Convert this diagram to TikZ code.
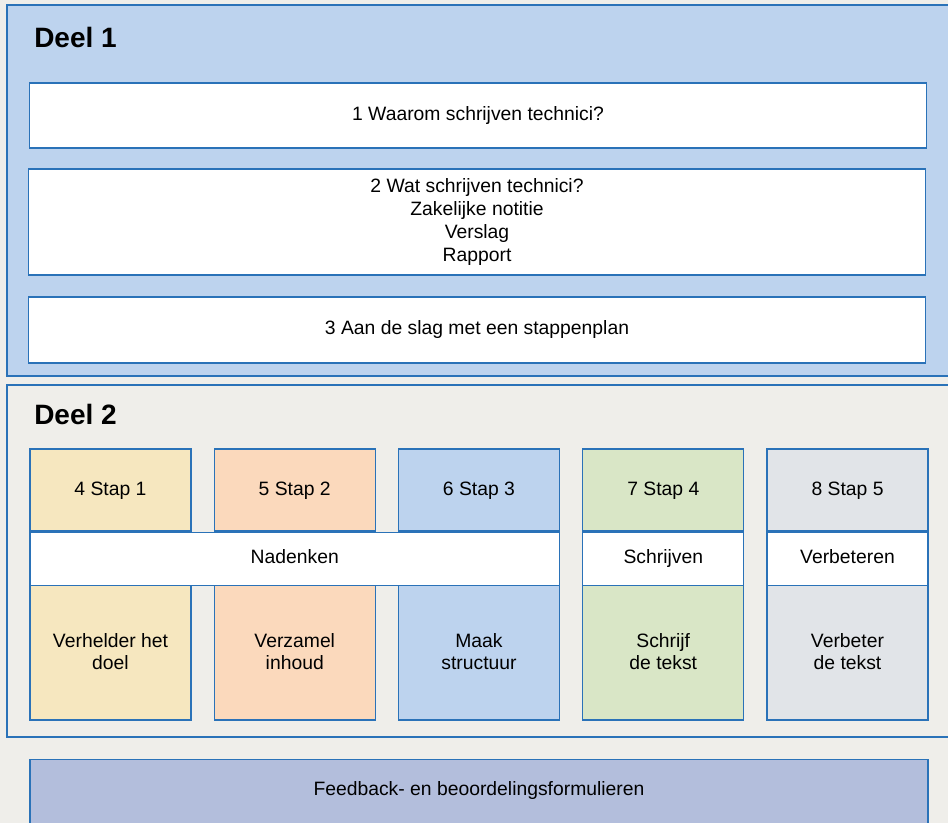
\documentclass[tikz,border=0pt]{standalone}
\usepackage{fontspec}
\setmainfont{Liberation Sans}
\usetikzlibrary{positioning}
\definecolor{pagegray}{HTML}{EFEEEA}
\definecolor{panelblue}{HTML}{BDD3EE}
\definecolor{lineblue}{HTML}{2A72B8}
\definecolor{stapgeel}{HTML}{F6E7BF}
\definecolor{staporanje}{HTML}{FBD9BC}
\definecolor{stapblauw}{HTML}{BDD3EE}
\definecolor{stapgroen}{HTML}{D9E6C6}
\definecolor{stapgrijs}{HTML}{E1E4E8}
\definecolor{feedbackblauw}{HTML}{B3BEDC}
\tikzstyle{panel} = [draw=lineblue, line width=1.5pt, anchor=north west, inner sep=0pt, minimum width=720pt]
\tikzstyle{titel} = [anchor=base west, inner sep=0pt, font=\fontsize{21}{25}\selectfont\bfseries]
\tikzstyle{hoofdstuk} = [draw=lineblue, line width=1.1pt, fill=white, align=center, minimum width=672.75pt, inner sep=0pt, font=\fontsize{14.5}{17.25}\selectfont]
\tikzstyle{stapkop} = [draw=lineblue, line width=1.1pt, align=center, minimum width=120.75pt, minimum height=61.5pt, inner sep=0pt, text height=10.5pt, text depth=3pt, font=\fontsize{14.5}{17.25}\selectfont]
\tikzstyle{stapvoet} = [draw=lineblue, line width=1.1pt, align=center, minimum width=120.75pt, minimum height=102pt, inner sep=0pt, font=\fontsize{14.5}{16.5}\selectfont]
\tikzstyle{band} = [draw=lineblue, line width=1.1pt, fill=white, minimum height=39.75pt, inner sep=0pt, text height=10.5pt, text depth=3pt, font=\fontsize{14.5}{17.25}\selectfont]
\newcommand{\hoofdstuk}[3]{node (h#1) [hoofdstuk, minimum height=#2] {#3}}
\newcommand{\stapkop}[3]{node (k#1) [stapkop, fill=#2] {#3}}
\newcommand{\stapvoet}[3]{node (v#1) [stapvoet, fill=#2] {#3}}
\begin{document}
\begin{tikzpicture}[x=0.75pt, y=-0.75pt]
\useasboundingbox (0,0) rectangle (948,823);
\clip (0,0) rectangle (948,823);
\fill[pagegray] (0,0) rectangle (948,823);

% Deel 1
\path (6,4) node (deel1) [panel, fill=panelblue, minimum height=278.25pt] {};
\path (34,48) node (t1) [titel] {Deel 1};
\path (478,115.5) \hoofdstuk{1}{48.75pt}{1 Waarom schrijven technici?};
\path (h1)+(-1,106.5) \hoofdstuk{2}{79.5pt}{2 Wat schrijven technici?\\ Zakelijke notitie\\ Verslag\\ Rapport};
\path (h2)+(0,108) \hoofdstuk{3}{49.5pt}{3 Aan de slag met een stappenplan};

% Deel 2
\path (6,384) node (deel2) [panel, fill=pagegray, minimum height=264pt] {};
\path (34,424) node (t2) [titel] {Deel 2};
\path (110.5,490) \stapkop{1}{stapgeel}{4 Stap 1};
\path (k1)+(184.25,0) \stapkop{2}{staporanje}{5 Stap 2};
\path (k2)+(184.25,0) \stapkop{3}{stapblauw}{6 Stap 3};
\path (k3)+(184.25,0) \stapkop{4}{stapgroen}{7 Stap 4};
\path (k4)+(184.25,0) \stapkop{5}{stapgrijs}{8 Stap 5};
\path (k1)+(0,162) \stapvoet{1}{stapgeel}{Verhelder het\\ doel};
\path (k2)+(0,162) \stapvoet{2}{staporanje}{Verzamel\\ inhoud};
\path (k3)+(0,162) \stapvoet{3}{stapblauw}{Maak\\ structuur};
\path (k4)+(0,162) \stapvoet{4}{stapgroen}{Schrijf\\ de tekst};
\path (k5)+(0,162) \stapvoet{5}{stapgrijs}{Verbeter\\ de tekst};
\node (nadenken) [band, anchor=north west, minimum width=397.125pt] at (k1.south west) {Nadenken};
\node (schrijven) [band, anchor=north, minimum width=120.75pt] at (k4.south) {Schrijven};
\node (verbeteren) [band, anchor=north, minimum width=120.75pt] at (k5.south) {Verbeteren};

% formulieren
\path (479,759) node (fb) [hoofdstuk, anchor=north, fill=feedbackblauw, minimum width=673.5pt, minimum height=67.5pt] {};
\node (fbtekst) [font=\fontsize{14.5}{17.25}\selectfont, inner sep=0pt] at ([yshift=-23.25pt]fb.north) {Feedback- en beoordelingsformulieren};
\end{tikzpicture}
\end{document}
